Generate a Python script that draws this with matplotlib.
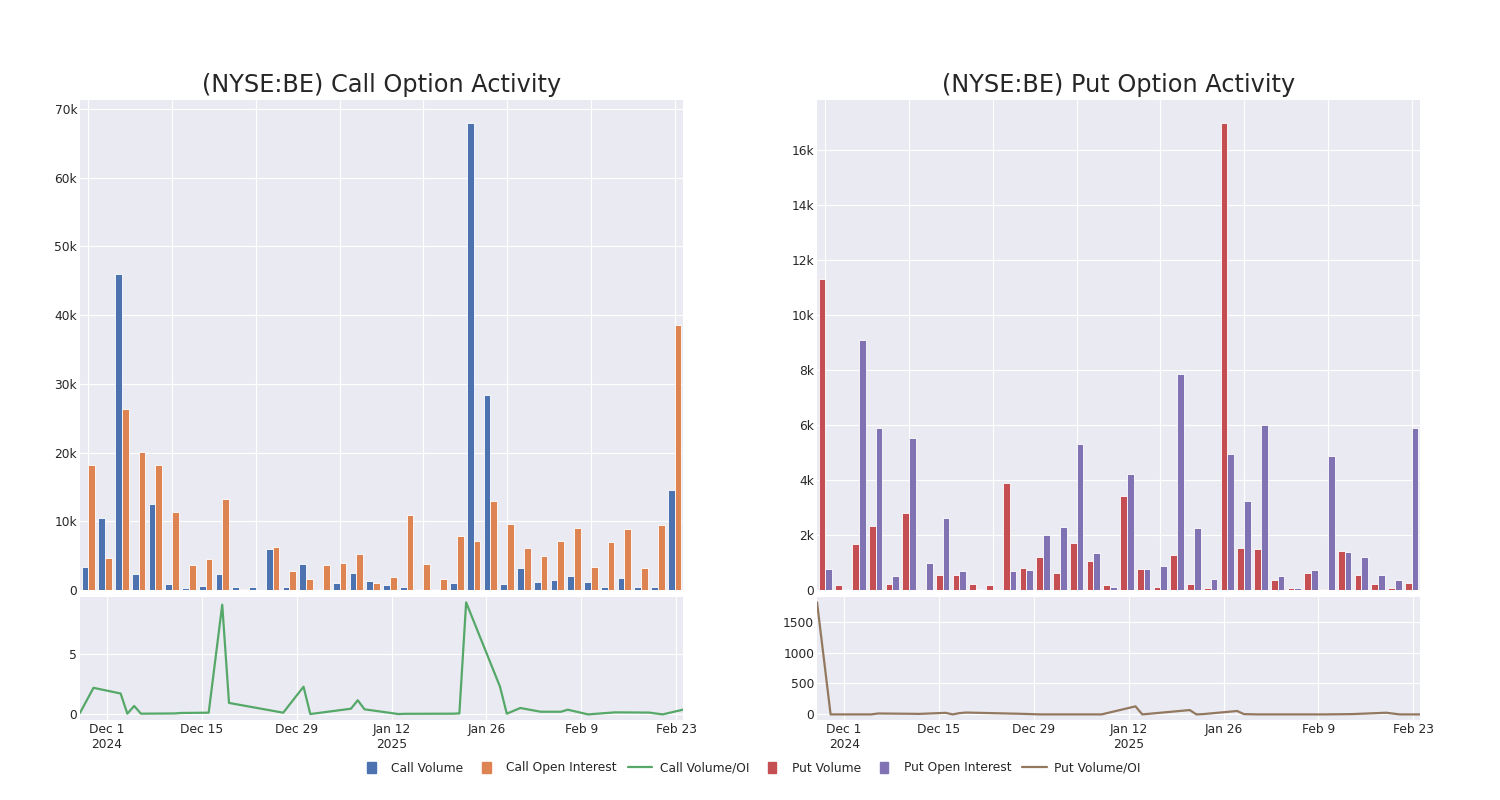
import pandas as pd
import matplotlib
matplotlib.use("Agg")
import matplotlib.pyplot as plt
import matplotlib.ticker as mticker
from matplotlib.patches import Patch, Rectangle
from matplotlib.lines import Line2D
from matplotlib.legend_handler import HandlerPatch

# trading days shown in both panels
dates = pd.to_datetime([
    "2024-11-27", "2024-11-29", "2024-12-03", "2024-12-04", "2024-12-05", "2024-12-06",
    "2024-12-11", "2024-12-12", "2024-12-16", "2024-12-17", "2024-12-18", "2024-12-19",
    "2024-12-27", "2024-12-30", "2024-12-31", "2025-01-03", "2025-01-06", "2025-01-07",
    "2025-01-08", "2025-01-13", "2025-01-14", "2025-01-21", "2025-01-22", "2025-01-23",
    "2025-01-28", "2025-01-29", "2025-01-31", "2025-02-03", "2025-02-05", "2025-02-06",
    "2025-02-07", "2025-02-10", "2025-02-14", "2025-02-19", "2025-02-21", "2025-02-24",
])

call_volume = [3300, 10500, 46000, 2300, 12500, 900, 300, 600, 2400, 500, 400, 6000,
               400, 3800, 100, 1000, 2500, 1300, 700, 500, 150, 100, 1000, 67900,
               28400, 900, 3200, 1100, 1400, 2100, 1200, 400, 1800, 500, 500, 14500]
call_oi = [18200, 4700, 26300, 20100, 18200, 11400, 3600, 4500, 13200, 100, 50, 6300,
           2800, 1600, 3700, 4000, 5200, 1000, 1900, 10900, 3800, 1550, 7800, 7200,
           12900, 9600, 6100, 5000, 7100, 9000, 3300, 7000, 8900, 3200, 9500, 38500]
call_ratio = [0.12, 2.2, 1.73, 0.06, 0.7, 0.06, 0.08, 0.12, 0.14, 4.6, 9.08, 0.95,
              0.14, 2.29, 0.03, 0.25, 0.47, 1.17, 0.42, 0.03, 0.05, 0.06, 0.08, 9.27,
              2.29, 0.06, 0.53, 0.22, 0.22, 0.22, 0.39, 0.0, 0.17, 0.15, 0.0, 0.39]

put_volume = [11300, 190, 1680, 2330, 220, 2800, 0, 550, 560, 230, 190, 3900,
              810, 1210, 610, 1700, 1070, 190, 3420, 780, 100, 1270, 230, 60,
              16960, 1540, 1480, 380, 60, 620, 30, 1420, 560, 220, 60, 270]
put_oi = [750, 40, 9100, 5870, 500, 5530, 980, 2600, 690, 40, 0, 690,
          740, 1990, 2300, 5320, 1350, 120, 4230, 780, 870, 7840, 2250, 410,
          4950, 3250, 5980, 520, 80, 740, 4860, 1380, 1190, 530, 380, 5890]
put_ratio = [1810, 0, 0, 0, 0, 15, 10, 8, 25, 0, 20, 30,
             10, 0, 0, 0, 0, 0, 0, 130, 0, 70, 0, 5,
             55, 5, 0, 0, 0, 0, 0, 0, 5, 27, 0, 0]

tick_dates = pd.to_datetime(["2024-12-01", "2024-12-15", "2024-12-29", "2025-01-12",
                             "2025-01-26", "2025-02-09", "2025-02-23"])

plt.style.use("seaborn-v0_8-darkgrid")
plt.rcParams["font.family"] = ["DejaVu Sans"]

blue, orange, green = "#4C72B0", "#DD8452", "#55A868"
red, purple, brown = "#C44E52", "#8172B3", "#937860"
TICK_FS = 8.8

fig = plt.figure(figsize=(15, 8), dpi=100)


def k_fmt(v, pos):
    return "0" if v == 0 else f"{int(round(v / 1000))}k"


def date_fmt(v, pos):
    d = matplotlib.dates.num2date(v)
    lab = f"{d.strftime('%b')} {d.day}"
    if (d.month == 12 and d.day == 1) or (d.month == 1 and d.day == 12):
        lab += f"\n{d.year}"
    return lab


def panel(x0, title, vol, oi, ratio, c1, c2, c3, yticks, ratio_ticks):
    ax = fig.add_axes([x0, 0.2625, 0.402, 0.6125])
    idx = list(range(len(vol)))
    ax.bar([i - 0.2 for i in idx], vol, width=0.4, color=c1, edgecolor="white", linewidth=0.6)
    ax.bar([i + 0.2 for i in idx], oi, width=0.4, color=c2, edgecolor="white", linewidth=0.6)
    ax.set_xlim(-0.5, len(vol) - 0.5)
    ax.set_xticks(range(0, len(vol), 5))
    ax.tick_params(axis="x", labelbottom=False, length=0)
    ax.set_yticks(yticks)
    ax.yaxis.set_major_formatter(mticker.FuncFormatter(k_fmt))
    ax.tick_params(axis="y", labelsize=TICK_FS, pad=2)
    ax.set_title(title, fontsize=17.3, pad=6)

    ax2 = fig.add_axes([x0, 0.1, 0.402, 0.154])
    ax2.plot(dates, ratio, color=c3, linewidth=1.6)
    ax2.set_xlim(dates[0], dates[-1])
    ax2.set_xticks(tick_dates)
    ax2.set_yticks(ratio_ticks)
    ax2.xaxis.set_major_formatter(mticker.FuncFormatter(date_fmt))
    ax2.tick_params(labelsize=TICK_FS, pad=2)
    return ax, ax2


panel(0.0533, "(NYSE:BE) Call Option Activity", call_volume, call_oi, call_ratio,
      blue, orange, green, range(0, 70001, 10000), [0, 5])
panel(0.5447, "(NYSE:BE) Put Option Activity", put_volume, put_oi, put_ratio,
      red, purple, brown, range(0, 16001, 2000), [0, 500, 1000, 1500])


def small_box(legend, orig_handle, xdescent, ydescent, width, height, fontsize):
    w, h = 6.0, 8.0
    return Rectangle((-xdescent + width / 2 - w / 2, -ydescent + height / 2 - h / 2), w, h)


handles = [
    Patch(color=blue, label="Call Volume"),
    Patch(color=orange, label="Call Open Interest"),
    Line2D([], [], color=green, linewidth=1.6, label="Call Volume/OI"),
    Patch(color=red, label="Put Volume"),
    Patch(color=purple, label="Put Open Interest"),
    Line2D([], [], color=brown, linewidth=1.6, label="Put Volume/OI"),
]
fig.legend(handles=handles, loc="center", bbox_to_anchor=(0.5, 0.04), ncol=6,
           frameon=False, fontsize=TICK_FS, handlelength=2.0, handletextpad=0.6,
           columnspacing=0.9,
           handler_map={Patch: HandlerPatch(patch_func=small_box)})

fig.savefig("out.png", dpi=100, facecolor="white")
